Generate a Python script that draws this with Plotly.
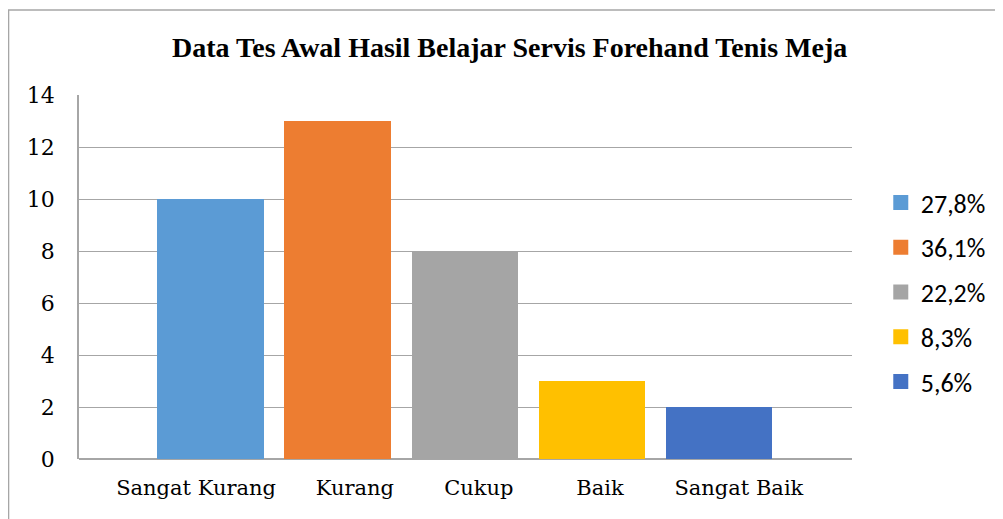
import plotly.graph_objects as go

categories = ["Sangat Kurang", "Kurang", "Cukup", "Baik", "Sangat Baik"]
values = [10, 13, 8, 3, 2]
legend_labels = ["27,8%", "36,1%", "22,2%", "8,3%", "5,6%"]
colors = ["#5B9BD5", "#ED7D31", "#A5A5A5", "#FFC000", "#4472C4"]
y_ticks = [0, 2, 4, 6, 8, 10, 12, 14]

# layout: manual offsets of category text labels relative to bars
label_offsets = [-0.113, 0.136, 0.112, 0.064, 0.157]

OFF = 8  # page body margin
W, H = 1003 - OFF, 519 - OFF
# plot area edges in page pixels
L, R, T, B = 79, 858, 95, 459

def fx(p):
    return p - OFF

def px_x(p):
    return (p - L) / (R - L)

def px_y(p):
    return (B - p) / (B - T)

fig = go.Figure()
for i, (cat, v, name, c) in enumerate(zip(categories, values, legend_labels, colors)):
    fig.add_trace(go.Bar(
        x=[i], y=[v], name=name, width=0.835,
        marker=dict(color=c, line=dict(width=0)),
        showlegend=False, hovertext=cat,
    ))
    fig.add_trace(go.Scatter(
        x=[None], y=[None], mode="markers", name=name,
        marker=dict(symbol="square", size=15, color=c),
        legendgroup=f"g{i}", showlegend=True,
    ))

serif = "DejaVu Serif, serif"
title_font = "Liberation Serif, serif"
sans = "Carlito, Lato, Liberation Sans, sans-serif"

fig.update_layout(
    width=W, height=H,
    margin=dict(l=fx(L), r=1003 - R, t=fx(T), b=519 - B, pad=0),
    paper_bgcolor="white", plot_bgcolor="white",
    bargap=0,
    showlegend=True,
    title=dict(
        text="<b>Data Tes Awal Hasil Belajar Servis Forehand Tenis Meja</b>",
        font=dict(family=title_font, size=28, color="black"),
        x=px_x(513), xref="paper", xanchor="center",
        y=1 - fx(47) / H, yref="container", yanchor="middle",
    ),
    xaxis=dict(
        range=[-1.034, 5.047],
        tickmode="array",
        tickvals=[i + o for i, o in enumerate(label_offsets)],
        ticktext=categories,
        showgrid=False, zeroline=False, showline=False,
        ticks="", ticklabelstandoff=14,
        tickfont=dict(family=serif, size=21, color="black"),
        fixedrange=True,
    ),
    yaxis=dict(
        range=[0, 14],
        tickvals=y_ticks,
        showgrid=True, gridcolor="#a6a6a6", gridwidth=1.3,
        zeroline=True, zerolinecolor="#a6a6a6", zerolinewidth=1.5,
        showline=True, linecolor="#a6a6a6", linewidth=1.5,
        ticks="", ticklabelstandoff=18,
        tickfont=dict(family=serif, size=22, color="black"),
    ),
    legend=dict(
        x=px_x(887), xanchor="left",
        y=px_y(179), yanchor="top",
        font=dict(family=sans, size=26, color="black"),
        tracegroupgap=8,
        itemsizing="trace",
        itemwidth=30,
        bgcolor="rgba(0,0,0,0)",
    ),
    shapes=[
        dict(type="rect", xref="paper", yref="paper",
             x0=px_x(8), x1=px_x(1015), y0=px_y(530), y1=px_y(10),
             line=dict(color="#a6a6a6", width=1.5), fillcolor="rgba(0,0,0,0)",
             layer="below"),
    ],
)

fig.write_html("out.html")
